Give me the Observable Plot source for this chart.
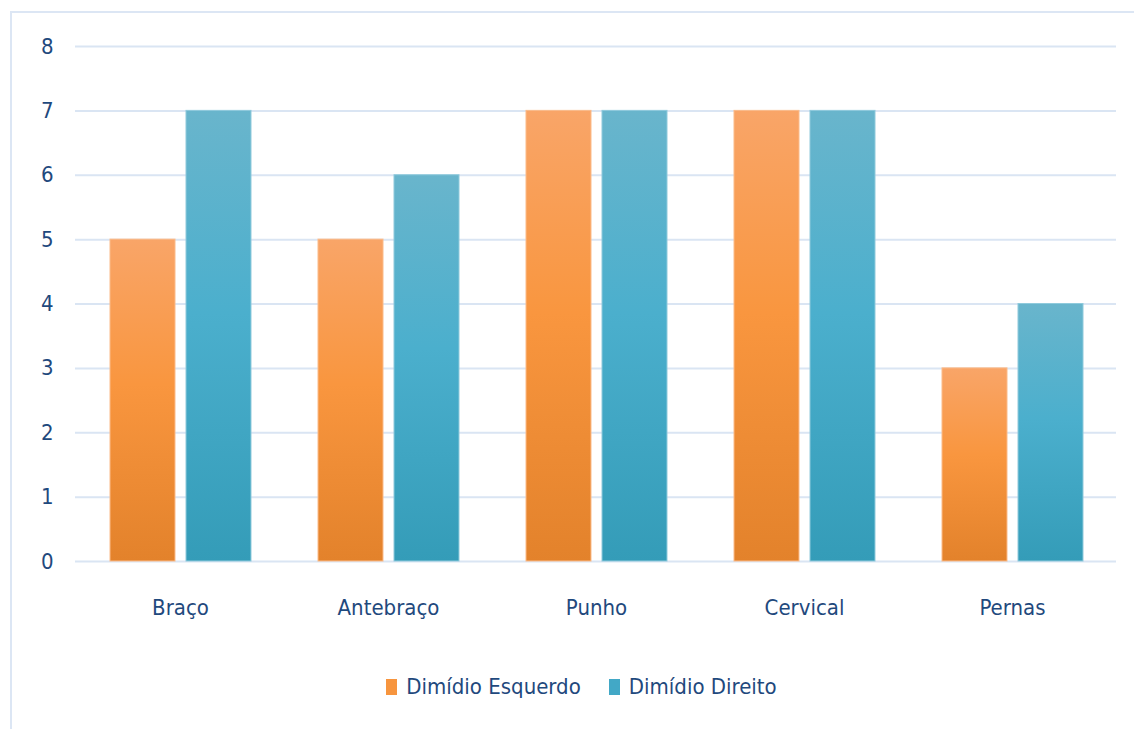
<!DOCTYPE html>
<html>
<head>
<meta charset="utf-8">
<script src="https://cdn.jsdelivr.net/npm/d3@7"></script>
<script src="https://cdn.jsdelivr.net/npm/@observablehq/plot@0.6"></script>
<style>
  html, body { margin: 0; padding: 0; background: #fff; width: 1134px; height: 729px; overflow: hidden; }
  #frame { position: absolute; left: 10px; top: 11px; right: 0; bottom: 0;
           border-left: 2px solid #DCE6F4; border-top: 2px solid #DCE6F4; }
  #legend { display: flex; justify-content: center; gap: 28px; margin-top: 11px; padding-left: 17px;
            font-family: "DejaVu Sans Condensed", "DejaVu Sans", sans-serif; font-size: 22px; color: #1F497D;
            line-height: 26px; }
  .item { display: flex; align-items: center; gap: 9px; }
  .sw { width: 11px; height: 16px; display: inline-block; }
</style>
</head>
<body>
<div id="frame"><div id="chart"></div><div id="legend"></div></div>
<script>
const categories = ["Braço", "Antebraço", "Punho", "Cervical", "Pernas"];
const seriesNames = ["Dimídio Esquerdo", "Dimídio Direito"];
const esquerdo = [5, 5, 7, 7, 3];
const direito = [7, 6, 7, 7, 4];
const yTicks = [0, 1, 2, 3, 4, 5, 6, 7, 8];

const dataE = categories.map((c, i) => ({category: c, value: esquerdo[i]}));
const dataD = categories.map((c, i) => ({category: c, value: direito[i]}));

const font = '"DejaVu Sans Condensed", "DejaVu Sans", sans-serif';
const textColor = "#1F497D";

const plot = Plot.plot({
  width: 1122,
  height: 650,
  marginLeft: 63,
  marginRight: 18,
  marginTop: 33,
  marginBottom: 102,
  style: {fontFamily: font, fontSize: "22px", color: textColor, background: "transparent"},
  x: {domain: categories, paddingInner: 0, paddingOuter: 0, label: null, tickSize: 0, tickPadding: 38},
  y: {domain: [0, 8], ticks: yTicks, label: null, tickSize: 0, tickPadding: 22},
  marks: [
    Plot.ruleY(yTicks, {stroke: "#DAE5F3", strokeWidth: 2}),
    Plot.barY(dataE, {x: "category", y: "value", fill: "url(#gradOrange)", stroke: "#FBBB8A", strokeWidth: 1,
      insetLeft: 34, insetRight: 109}),
    Plot.barY(dataD, {x: "category", y: "value", fill: "url(#gradBlue)", stroke: "#8FCADC", strokeWidth: 1,
      insetLeft: 110, insetRight: 33})
  ]
});

const ns = "http://www.w3.org/2000/svg";
const defs = document.createElementNS(ns, "defs");
function grad(id, stops) {
  const g = document.createElementNS(ns, "linearGradient");
  g.setAttribute("id", id);
  g.setAttribute("x1", "0"); g.setAttribute("y1", "0");
  g.setAttribute("x2", "0"); g.setAttribute("y2", "1");
  g.setAttribute("gradientUnits", "objectBoundingBox");
  stops.forEach(([o, c]) => {
    const s = document.createElementNS(ns, "stop");
    s.setAttribute("offset", o); s.setAttribute("stop-color", c);
    g.appendChild(s);
  });
  defs.appendChild(g);
}
grad("gradOrange", [["0", "#F9A568"], ["0.45", "#F9963F"], ["1", "#E3822B"]]);
grad("gradBlue", [["0", "#69B5CC"], ["0.45", "#4BAFCD"], ["1", "#349CB8"]]);
plot.insertBefore(defs, plot.firstChild);
plot.style.display = "block";
document.getElementById("chart").appendChild(plot);

const colors = ["#F7953E", "#42A8C6"];
const legend = document.getElementById("legend");
seriesNames.forEach((n, i) => {
  const it = document.createElement("div");
  it.className = "item";
  const sw = document.createElement("span");
  sw.className = "sw";
  sw.style.background = colors[i];
  const t = document.createElement("span");
  t.textContent = n;
  it.appendChild(sw); it.appendChild(t);
  legend.appendChild(it);
});
</script>
</body>
</html>
